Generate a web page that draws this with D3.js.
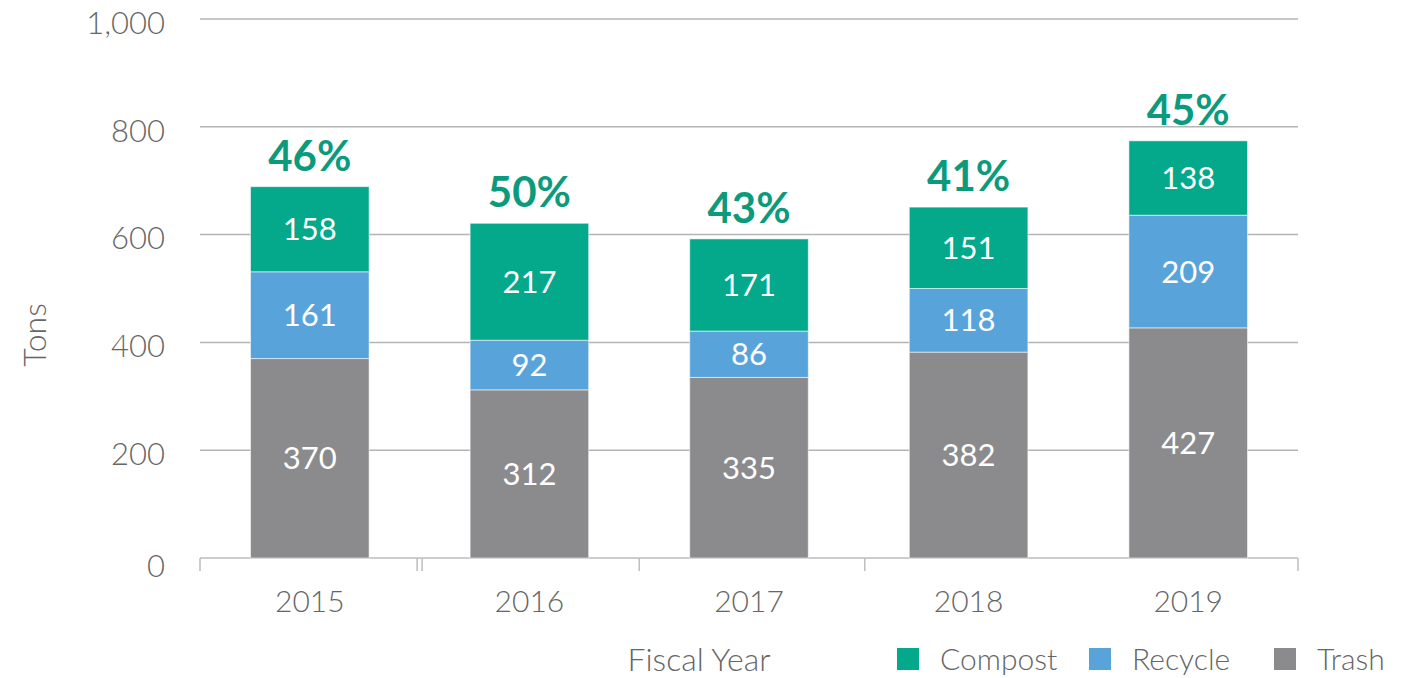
<!DOCTYPE html>
<html>
<head>
<meta charset="utf-8">
<script src="https://cdn.jsdelivr.net/npm/d3@7"></script>
<style>
    body { margin: 0; background: #fff; }
    text { font-family: "Source Sans Pro", Lato, "Noto Sans", sans-serif; }
</style>
</head>
<body>
<svg id="drawing_region"></svg>
<script>
const years = ["2015", "2016", "2017", "2018", "2019"];
const trash = [370, 312, 335, 382, 427];
const recycle = [161, 92, 86, 118, 209];
const compost = [158, 217, 171, 151, 138];
const diversion = ["46%", "50%", "43%", "41%", "45%"];
const yTicks = [0, 200, 400, 600, 800, 1000];
const keys = ["Trash", "Recycle", "Compost"];
const legendKeys = ["Compost", "Recycle", "Trash"];

var data = years.map( (y, i) => ({
    year: y, Trash: trash[i], Recycle: recycle[i], Compost: compost[i], pct: diversion[i]
}));

class StackedBar {

    constructor( config, data ) {
        this.config = {
            parent: config.parent,
            width: config.width || 256,
            height: config.height || 128,
            margin: config.margin || {top: 10, right: 10, bottom: 10, left: 10}
        }
        this.data = data;
        this.init();
    }

    init() {
        let self = this;

        self.svg = d3.select( self.config.parent )
            .attr('width', self.config.width)
            .attr('height', self.config.height);

        self.inner_width = self.config.width - self.config.margin.left - self.config.margin.right;
        self.inner_height = self.config.height - self.config.margin.top - self.config.margin.bottom;

        self.chart = self.svg.append('g')
            .attr('transform', `translate(${self.config.margin.left}, ${self.config.margin.top})`);

        self.xscale = d3.scaleBand()
            .domain( years )
            .range( [0, self.inner_width] )
            .paddingInner(0.46)
            .paddingOuter(0.23);

        self.yscale = d3.scaleLinear()
            .domain( [0, 1000] )
            .range( [self.inner_height, 0] );

        self.color = d3.scaleOrdinal()
            .domain( keys )
            .range( ["#8b8b8d", "#59a3db", "#04a98c"] );

        self.stack = d3.stack().keys( keys );
    }

    update() {
        let self = this;
        self.series = self.stack( self.data );
        self.render();
    }

    render() {
        let self = this;
        const h = self.inner_height;

        // gridlines
        self.chart.selectAll('.grid')
            .data( yTicks.filter(d => d > 0) )
            .enter()
            .append('line')
            .attr('x1', 0)
            .attr('x2', self.inner_width)
            .attr('y1', d => self.yscale(d))
            .attr('y2', d => self.yscale(d))
            .attr('stroke', '#b4b4b4')
            .attr('stroke-width', 1.5);

        // y labels
        self.chart.selectAll('.ylab')
            .data( yTicks )
            .enter()
            .append('text')
            .attr('x', -35)
            .attr('y', d => self.yscale(d))
            .attr('dy', d => d == 0 ? '0.62em' : '0.48em')
            .attr('text-anchor', 'end')
            .attr('fill', '#666')
            .attr('font-size', '31px')
            .attr('font-weight', 300)
            .text( d => d3.format(',')(d) );

        // x axis line and ticks
        self.chart.append('line')
            .attr('x1', 0).attr('x2', self.inner_width)
            .attr('y1', h).attr('y2', h)
            .attr('stroke', '#bdbdbd')
            .attr('stroke-width', 1.5);

        const step = self.xscale.step();
        const tickPos = [0, step - 2.5, step + 2.5, step * 2, step * 3 + 6, self.inner_width];
        self.chart.selectAll('.xtick')
            .data( tickPos )
            .enter()
            .append('line')
            .attr('x1', d => d).attr('x2', d => d)
            .attr('y1', h).attr('y2', h + 13)
            .attr('stroke', '#bdbdbd')
            .attr('stroke-width', 1.5);

        // bars
        self.chart.selectAll('.layer')
            .data( self.series )
            .enter()
            .append('g')
            .attr('fill', d => self.color(d.key))
            .selectAll('rect')
            .data( d => d )
            .enter()
            .append('rect')
            .attr('x', d => self.xscale(d.data.year))
            .attr('y', d => self.yscale(d[1]))
            .attr('width', self.xscale.bandwidth())
            .attr('height', d => self.yscale(d[0]) - self.yscale(d[1]))
            .attr('stroke', 'rgba(255,255,255,0.55)')
            .attr('stroke-width', 1);

        // value labels
        self.series.forEach( s => {
            self.chart.selectAll('.v' + s.key)
                .data( s )
                .enter()
                .append('text')
                .attr('x', d => self.xscale(d.data.year) + self.xscale.bandwidth() / 2)
                .attr('y', d => (self.yscale(d[0]) + self.yscale(d[1])) / 2)
                .attr('dy', '0.36em')
                .attr('text-anchor', 'middle')
                .attr('fill', '#fff')
                .attr('font-size', '31px')
                .text( d => d.data[s.key] );
        });

        // diversion percentages
        const top = self.series[self.series.length - 1];
        self.chart.selectAll('.pct')
            .data( top )
            .enter()
            .append('text')
            .attr('x', d => self.xscale(d.data.year) + self.xscale.bandwidth() / 2)
            .attr('y', d => self.yscale(d[1]) - 16)
            .attr('text-anchor', 'middle')
            .attr('fill', '#0b9b7c')
            .attr('font-size', '42px')
            .attr('font-weight', 'bold')
            .text( d => d.data.pct );

        // x labels
        self.chart.selectAll('.xlab')
            .data( years )
            .enter()
            .append('text')
            .attr('x', d => self.xscale(d) + self.xscale.bandwidth() / 2)
            .attr('y', h + 43)
            .attr('dy', '0.36em')
            .attr('text-anchor', 'middle')
            .attr('fill', '#666')
            .attr('font-size', '30px')
            .attr('font-weight', 300)
            .text( d => d );

        // axis titles
        self.svg.append('text')
            .attr('transform', 'translate(46, 335) rotate(-90)')
            .attr('text-anchor', 'middle')
            .attr('fill', '#666')
            .attr('font-size', '32px')
            .attr('font-weight', 300)
            .text('Tons');

        self.svg.append('text')
            .attr('x', 699)
            .attr('y', 671)
            .attr('text-anchor', 'middle')
            .attr('fill', '#666')
            .attr('font-size', '32px')
            .attr('font-weight', 300)
            .text('Fiscal Year');

        // legend
        const legendX = [897, 1089, 1274];
        const legend = self.svg.selectAll('.legend')
            .data( legendKeys )
            .enter()
            .append('g')
            .attr('transform', (d, i) => `translate(${legendX[i]}, 648)`);
        legend.append('rect')
            .attr('width', 22).attr('height', 22)
            .attr('fill', d => self.color(d));
        legend.append('text')
            .attr('x', 43)
            .attr('y', 11)
            .attr('dy', '0.36em')
            .attr('fill', '#666')
            .attr('font-size', '30px')
            .attr('font-weight', 300)
            .text( d => d );
    }
}

var config = {
    parent: '#drawing_region',
    width: 1406,
    height: 678,
    margin: {top: 19, right: 108, bottom: 120, left: 200}
};

const chart = new StackedBar( config, data );
chart.update();
</script>
</body>
</html>
